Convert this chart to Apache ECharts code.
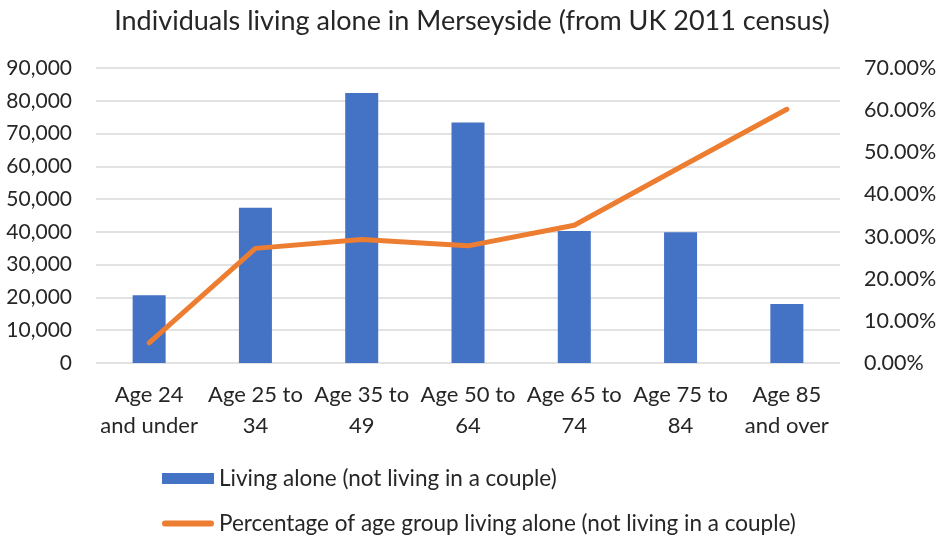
<!DOCTYPE html>
<html>
<head>
<meta charset="utf-8">
<script src="https://cdn.jsdelivr.net/npm/echarts@6/dist/echarts.min.js"></script>
<style>
html,body{margin:0;padding:0;background:#fff;}
#chart{width:944px;height:538px;}
</style>
</head>
<body>
<div id="chart"></div>
<script>
const titleText = 'Individuals living alone in Merseyside (from UK 2011 census)';
const categories = ['Age 24\nand under', 'Age 25 to\n34', 'Age 35 to\n49', 'Age 50 to\n64', 'Age 65 to\n74', 'Age 75 to\n84', 'Age 85\nand over'];
const barName = 'Living alone (not living in a couple)';
const lineName = 'Percentage of age group living alone (not living in a couple)';
const livingAlone = [20700, 47400, 82400, 73400, 40300, 39900, 18000];
const percentAlone = [4.8, 27.2, 29.3, 27.8, 32.7, 46.5, 60.2];

const FONT = 'Lato';
const legendText = { fontFamily: FONT, fontSize: 22.5, color: '#262626' };
const chart = echarts.init(document.getElementById('chart'));
chart.setOption({
  backgroundColor: '#ffffff',
  animation: false,
  title: {
    text: titleText,
    left: 'center',
    top: 3,
    textStyle: { fontFamily: FONT, fontSize: 27, fontWeight: 'normal', color: '#262626' }
  },
  legend: [
    {
      left: 157, top: 462, itemGap: 6, itemWidth: 52, itemHeight: 11,
      textStyle: legendText,
      data: [{ name: barName, icon: 'rect' }]
    },
    {
      left: 157, top: 507, itemGap: 6, itemWidth: 52, itemHeight: 15,
      textStyle: legendText,
      data: [{ name: lineName, icon: 'path://M3,0 H49 A3,3 0 0 1 49,6 H3 A3,3 0 0 1 3,0 Z' }]
    }
  ],
  grid: { left: 96, right: 104, top: 68, bottom: 175, containLabel: false },
  xAxis: {
    type: 'category',
    data: categories,
    axisLine: { show: false },
    axisTick: { show: false },
    axisLabel: { fontFamily: FONT, fontSize: 22, color: '#262626', lineHeight: 31, margin: 16, interval: 0 }
  },
  yAxis: [
    {
      type: 'value', min: 0, max: 90000, interval: 10000,
      axisLine: { show: false }, axisTick: { show: false },
      splitLine: { lineStyle: { color: '#d9d9d9', width: 1.5 } },
      axisLabel: {
        fontFamily: FONT, fontSize: 21, color: '#262626', margin: 24,
        formatter: v => v.toLocaleString('en-US')
      }
    },
    {
      type: 'value', min: 0, max: 70, interval: 10, position: 'right',
      axisLine: { show: false }, axisTick: { show: false },
      splitLine: { show: false },
      axisLabel: {
        fontFamily: FONT, fontSize: 21.5, color: '#262626', margin: 24,
        formatter: v => v.toFixed(2) + '%'
      }
    }
  ],
  series: [
    {
      name: barName, type: 'bar', data: livingAlone, yAxisIndex: 0,
      barWidth: 33, itemStyle: { color: '#4472c4' }
    },
    {
      name: lineName, type: 'line', data: percentAlone, yAxisIndex: 1,
      symbol: 'none', lineStyle: { color: '#ed7d31', width: 5, cap: 'round', join: 'round' },
      itemStyle: { color: '#ed7d31' }
    }
  ]
});
</script>
</body>
</html>
